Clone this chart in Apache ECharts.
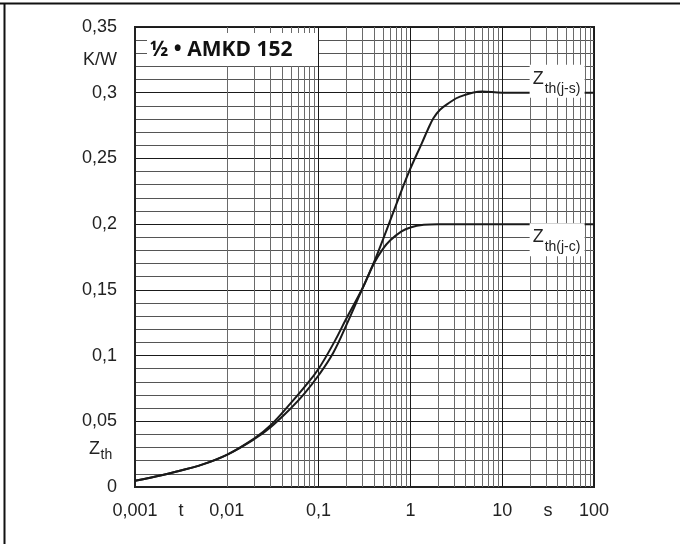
<!DOCTYPE html>
<html><head><meta charset="utf-8">
<script src="https://cdn.jsdelivr.net/npm/echarts@6/dist/echarts.min.js"></script>
<style>html,body{margin:0;padding:0;background:#fff}#c{width:680px;height:544px}</style>
</head><body><div id="c"></div>
<script>
// ---- data ----
const tJC = [0.001, 0.002, 0.003, 0.005, 0.01, 0.02, 0.03, 0.05, 0.07, 0.1, 0.15, 0.2, 0.3, 0.4, 0.5, 0.6, 0.8, 1.0, 1.4, 2, 10, 100];
const zJC = [0.0048, 0.0092, 0.0122, 0.0163, 0.0245, 0.037, 0.047, 0.064, 0.076, 0.090, 0.111, 0.128, 0.151, 0.170, 0.181, 0.1875, 0.1945, 0.1975, 0.1995, 0.2, 0.2, 0.2];
const tJS = [0.001, 0.002, 0.003, 0.005, 0.01, 0.02, 0.03, 0.05, 0.07, 0.1, 0.144, 0.2, 0.3, 0.41, 0.55, 0.71, 0.95, 1.33, 1.55, 1.78, 2.1, 2.6, 3.47, 6, 10, 100];
const zJS = [0.0048, 0.0092, 0.0122, 0.0163, 0.0245, 0.0365, 0.0455, 0.060, 0.071, 0.085, 0.102, 0.123, 0.151, 0.1727, 0.1955, 0.216, 0.2387, 0.2615, 0.272, 0.2805, 0.287, 0.292, 0.297, 0.301, 0.3, 0.3];
const xDecades = [0.001, 0.01, 0.1, 1, 10, 100];
const yTicks = [0, 0.05, 0.1, 0.15, 0.2, 0.25, 0.3, 0.35];
const titleText = '\u00BD \u2022 AMKD 152';
const seriesNames = ['th(j-c)', 'th(j-s)'];

const xMinor = [];
for (let d = 0; d < xDecades.length - 1; d++) {
  for (let m = 2; m <= 9; m++) xMinor.push(Number((xDecades[d] * m).toPrecision(3)));
}
const fmt = v => String(Number(Number(v).toPrecision(3))).replace('.', ',');
const FONT = 'Liberation Sans, Arial, sans-serif';

const chart = echarts.init(document.getElementById('c'), null, {renderer: 'canvas'});
chart.setOption({
  animation: false,
  backgroundColor: '#fff',
  grid: {left: 135, top: 27, right: 86, bottom: 57, show: true, borderColor: '#222', borderWidth: 2, backgroundColor: 'transparent'},
  xAxis: {
    type: 'log', logBase: 10, min: 0.001, max: 100,
    axisLine: {show: true, onZero: false, lineStyle: {color: '#222', width: 2}},
    axisTick: {show: false},
    axisLabel: {color: '#222', fontSize: 18, fontFamily: FONT, margin: 15, formatter: fmt},
    splitLine: {show: true, lineStyle: {color: '#1a1a1a', width: 1}}
  },
  yAxis: {
    type: 'value', min: 0, max: 0.35, interval: 0.05,
    axisLine: {show: true, lineStyle: {color: '#222', width: 2}},
    axisTick: {show: false},
    axisLabel: {color: '#222', fontSize: 18, fontFamily: FONT, margin: 18, formatter: fmt},
    splitLine: {show: true, lineStyle: {color: '#1a1a1a', width: 1}},
    minorTick: {show: false, splitNumber: 5},
    minorSplitLine: {show: true, lineStyle: {color: '#555', width: 1}}
  },
  series: [
    {
      type: 'line', data: [], silent: true, z: 1,
      markLine: {
        silent: true, symbol: ['none', 'none'], animation: false,
        label: {show: false},
        lineStyle: {color: '#6a6a6a', width: 1, type: 'solid'},
        emphasis: {disabled: true},
        data: xMinor.map(v => ({xAxis: v}))
      }
    },
    {
      name: seriesNames[0], type: 'line', z: 5, showSymbol: false, smooth: 0.4,
      lineStyle: {color: '#1a1a1a', width: 2},
      data: tJC.map((t, i) => [t, zJC[i]])
    },
    {
      name: seriesNames[1], type: 'line', z: 5, showSymbol: false, smooth: 0.4,
      lineStyle: {color: '#1a1a1a', width: 2},
      data: tJS.map((t, i) => [t, zJS[i]])
    }
  ]
});

const P = (x, y) => chart.convertToPixel({gridIndex: 0}, [x, y]);
const pT = P(Math.pow(10, -2.5), 0);
const pS = P(Math.pow(10, 1.5), 0);
const labelY = pT[1] + 24;
const pKW = P(0.001, 0.325);
const pZth = P(0.001, 0.028);

function zLabel(x, yTop, sub) {
  return [
    {type: 'rect', shape: {x: x, y: yTop, width: 55, height: 33}, style: {fill: '#fff'}, z: 100},
    {type: 'text', x: x + 3, y: yTop + 23, z: 101, style: {text: 'Z', fontSize: 18, fontFamily: FONT, fill: '#222', verticalAlign: 'bottom'}},
    {type: 'text', x: x + 15, y: yTop + 31, z: 101, style: {text: sub, fontSize: 14, fontFamily: FONT, fill: '#222', verticalAlign: 'bottom'}}
  ];
}
const pJS = P(60, 0.3);
const pJC = P(60, 0.2);

chart.setOption({
  graphic: [
    {type: 'line', shape: {x1: 0, y1: 3.5, x2: 680, y2: 3.5}, style: {stroke: '#111', lineWidth: 2}, z: 100},
    {type: 'line', shape: {x1: 4.5, y1: 3, x2: 4.5, y2: 544}, style: {stroke: '#111', lineWidth: 2}, z: 100},
    {type: 'rect', shape: {x: 147, y: 33, width: 171, height: 33}, style: {fill: '#fff'}, z: 100},
    {type: 'text', x: 150, y: 50, z: 101, style: {text: titleText, fontSize: 21, fontWeight: 'bold', fontFamily: 'Open Sans, sans-serif', fill: '#111', verticalAlign: 'middle'}},
    {type: 'text', x: 117, y: pKW[1], z: 101, style: {text: 'K/W', fontSize: 18, fontFamily: FONT, fill: '#222', align: 'right', verticalAlign: 'middle'}},
    {type: 'text', x: 100, y: pZth[1] + 8, z: 101, style: {text: 'Z', fontSize: 18, fontFamily: FONT, fill: '#222', align: 'right', verticalAlign: 'bottom'}},
    {type: 'text', x: 100.5, y: pZth[1] + 12, z: 101, style: {text: 'th', fontSize: 14, fontFamily: FONT, fill: '#222', align: 'left', verticalAlign: 'bottom'}},
    {type: 'text', x: pT[0], y: labelY, z: 101, style: {text: 't', fontSize: 18, fontFamily: FONT, fill: '#222', align: 'center', verticalAlign: 'middle'}},
    {type: 'text', x: pS[0], y: labelY, z: 101, style: {text: 's', fontSize: 18, fontFamily: FONT, fill: '#222', align: 'center', verticalAlign: 'middle'}}
  ].concat(zLabel(pJS[0] - 44, pJS[1] - 28, seriesNames[1]), zLabel(pJC[0] - 44, pJC[1] - 1, seriesNames[0]))
});
</script></body></html>
